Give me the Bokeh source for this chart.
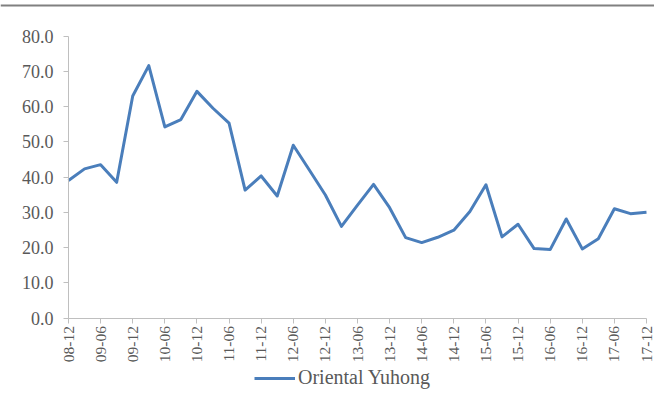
import math
from bokeh.plotting import figure
from bokeh.models import (ColumnDataSource, FixedTicker, NumeralTickFormatter, Legend,
                          LegendItem, Range1d, Span)
from bokeh.embed import file_html
from bokeh.resources import INLINE

quarters = ["08-12", "09-03", "09-06", "09-09", "09-12", "10-03", "10-06", "10-09",
            "10-12", "11-03", "11-06", "11-09", "11-12", "12-03", "12-06", "12-09",
            "12-12", "13-03", "13-06", "13-09", "13-12", "14-03", "14-06", "14-09",
            "14-12", "15-03", "15-06", "15-09", "15-12", "16-03", "16-06", "16-09",
            "16-12", "17-03", "17-06", "17-09", "17-12"]
oriental_yuhong = [39.0, 42.3, 43.5, 38.5, 63.0, 71.6, 54.2, 56.3,
                   64.3, 59.5, 55.3, 36.3, 40.3, 34.6, 49.0, 42.0,
                   34.9, 26.0, 32.0, 37.9, 31.3, 22.8, 21.4, 22.9,
                   24.9, 30.2, 37.8, 23.0, 26.6, 19.7, 19.4, 28.1,
                   19.6, 22.5, 31.0, 29.6, 30.0]
series_name = "Oriental Yuhong"
y_ticks = [0, 10, 20, 30, 40, 50, 60, 70, 80]

idx = list(range(len(quarters)))
tick_idx = idx[::2]
source = ColumnDataSource(data=dict(x=idx, y=oriental_yuhong, q=quarters))

TEXT = "#595959"
AXIS = "#bfbfbf"
FONT = "Liberation Serif"

W, H = 654, 400
# plot area in pixels inside the figure
left_px, right_px, top_px, bottom_px = 68, 646, 35.5, 317.5
x_last = len(quarters) - 1
y_max = y_ticks[-1]
xs = (right_px - left_px) / x_last
ys = (bottom_px - top_px) / y_max
x_range = Range1d(-left_px / xs, x_last + (W - right_px) / xs)
y_range = Range1d(-(H - bottom_px) / ys, y_max + top_px / ys)

p = figure(width=W, height=H, output_backend="svg", toolbar_location=None,
           x_range=x_range, y_range=y_range, min_border=0)
p.outline_line_color = None
p.grid.visible = False
p.background_fill_color = "white"
p.border_fill_color = "white"

r = p.line("x", "y", source=source, line_color="#4A7EBB", line_width=3, line_join="round")

# top rule
p.add_layout(Span(location=y_range.end - 5.0 / ys, dimension="width",
                  line_color="#808080", line_width=2))

# y axis
p.yaxis.fixed_location = 0
p.yaxis.bounds = (0, y_max)
p.yaxis.ticker = FixedTicker(ticks=y_ticks)
p.yaxis.formatter = NumeralTickFormatter(format="0.0")
p.yaxis.axis_line_color = AXIS
p.yaxis.major_tick_line_color = AXIS
p.yaxis.major_tick_in = 0
p.yaxis.major_tick_out = 5
p.yaxis.minor_tick_line_color = None
p.yaxis.major_label_text_font = FONT
p.yaxis.major_label_text_font_size = "18px"
p.yaxis.major_label_text_color = TEXT
p.yaxis.major_label_standoff = 10

# x axis
p.xaxis.fixed_location = 0
p.xaxis.bounds = (0, x_last)
p.xaxis.ticker = FixedTicker(ticks=tick_idx)
p.xaxis.major_label_overrides = {i: quarters[i] for i in tick_idx}
p.xaxis.major_label_orientation = math.pi / 2
p.xaxis.axis_line_color = AXIS
p.xaxis.major_tick_line_color = AXIS
p.xaxis.major_tick_in = 0
p.xaxis.major_tick_out = 5
p.xaxis.minor_tick_line_color = None
p.xaxis.major_label_text_font = FONT
p.xaxis.major_label_text_font_size = "15.5px"
p.xaxis.major_label_text_color = TEXT
p.xaxis.major_label_standoff = 3

legend = Legend(items=[LegendItem(label=series_name, renderers=[r])],
                orientation="horizontal", location=(254, 11),
                glyph_width=41, glyph_height=20, label_standoff=3,
                label_text_font=FONT, label_text_font_size="20px",
                label_text_color=TEXT, border_line_color=None,
                background_fill_alpha=0, padding=2, margin=0)
p.add_layout(legend)

open("out.html", "w").write(file_html(p, INLINE))
